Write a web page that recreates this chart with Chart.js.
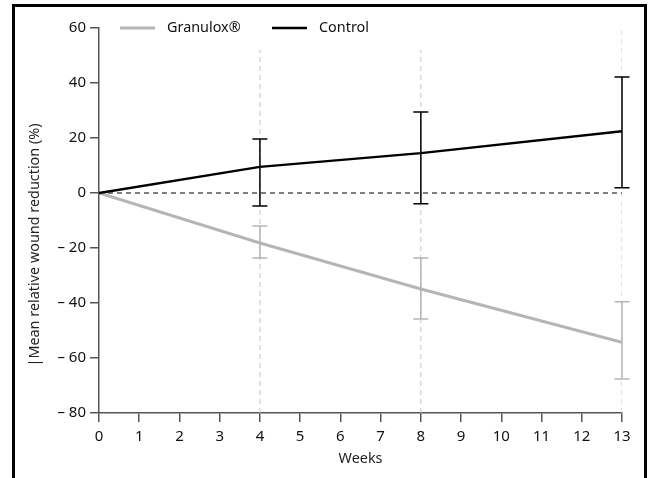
<!DOCTYPE html>
<html>
<head>
    <title>Mean relative wound reduction</title>
    <script src="https://cdn.jsdelivr.net/npm/chart.js@4.4.0/dist/chart.umd.min.js"></script>
    <style>
        body {
            margin: 0;
            background: white;
            font-family: "Noto Sans", Arial, sans-serif;
        }
        .frame {
            position: absolute;
            left: 12px;
            top: 4px;
            width: 629px;
            height: 500px;
            border: 3px solid #000;
        }
        #chart {
            position: absolute;
            left: 0;
            top: 0;
        }
    </style>
</head>
<body>
    <div class="frame"></div>
    <canvas id="chart" width="648" height="478"></canvas>

    <script>
        // Data
        const weeks = [0, 4, 8, 13];
        const granulox = [0, -18.2, -34.9, -54.3];
        const granuloxLow = [null, -23.6, -45.8, -67.6];
        const granuloxHigh = [null, -12.0, -23.6, -39.5];
        const control = [0, 9.5, 14.5, 22.5];
        const controlLow = [null, -4.7, -3.9, 1.9];
        const controlHigh = [null, 19.6, 29.5, 42.2];
        const guideWeeks = [4, 8, 13];
        const guideTops = [52, 52, 60];
        const yTicks = [60, 40, 20, 0, -20, -40, -60, -80];

        const fontFamily = '"Noto Sans", Arial, sans-serif';
        const grayColor = '#b5b5b5';

        const toPoints = (xs, ys) => xs.map((x, i) => ({ x: x, y: ys[i] }));

        const guideSets = guideWeeks.map((w, i) => ({
            label: 'guide' + w,
            data: [{ x: w, y: -80 }, { x: w, y: guideTops[i] }],
            borderColor: '#c4c4c4',
            borderWidth: 1,
            borderDash: [5, 4],
            pointRadius: 0,
            order: 5
        }));

        // error bars + legend + y title
        const extrasPlugin = {
            id: 'extras',
            afterDatasetsDraw(chart) {
                const c = chart.ctx;
                const xs = chart.scales.x, ys = chart.scales.y;
                const bars = [
                    { low: granuloxLow, high: granuloxHigh, color: grayColor },
                    { low: controlLow, high: controlHigh, color: '#000' }
                ];
                c.save();
                bars.forEach(b => {
                    c.strokeStyle = b.color;
                    c.lineWidth = 1.5;
                    weeks.forEach((w, i) => {
                        if (b.low[i] === null) return;
                        const px = xs.getPixelForValue(w);
                        const pl = ys.getPixelForValue(b.low[i]);
                        const ph = ys.getPixelForValue(b.high[i]);
                        c.beginPath();
                        c.moveTo(px, pl); c.lineTo(px, ph);
                        c.moveTo(px - 7.5, pl); c.lineTo(px + 7.5, pl);
                        c.moveTo(px - 7.5, ph); c.lineTo(px + 7.5, ph);
                        c.stroke();
                    });
                });
                c.restore();
            },
            afterDraw(chart) {
                const c = chart.ctx;
                c.save();
                // legend
                const items = [
                    { ds: chart.data.datasets[0], x: 120 },
                    { ds: chart.data.datasets[1], x: 272 }
                ];
                c.font = '14.4px ' + fontFamily;
                c.textBaseline = 'middle';
                items.forEach(it => {
                    c.strokeStyle = it.ds.borderColor;
                    c.lineWidth = it.ds.borderWidth;
                    c.beginPath();
                    c.moveTo(it.x, 28);
                    c.lineTo(it.x + 35, 28);
                    c.stroke();
                    c.fillStyle = '#111';
                    c.fillText(it.ds.label, it.x + 47, 28);
                });
                // y axis title
                c.translate(35, 245);
                c.rotate(-Math.PI / 2);
                c.textAlign = 'center';
                c.font = '14.4px ' + fontFamily;
                c.fillStyle = '#222';
                c.fillText('|Mean relative wound reduction (%)', 0, 0);
                c.restore();
            }
        };

        const chart = new Chart(document.getElementById('chart'), {
            type: 'line',
            data: {
                datasets: [
                    {
                        label: 'Granulox®',
                        data: toPoints(weeks, granulox),
                        borderColor: grayColor,
                        borderWidth: 3,
                        pointRadius: 0,
                        order: 2
                    },
                    {
                        label: 'Control',
                        data: toPoints(weeks, control),
                        borderColor: '#000',
                        borderWidth: 2.5,
                        pointRadius: 0,
                        order: 1
                    },
                    {
                        label: 'zero',
                        data: [{ x: 0, y: 0 }, { x: 13, y: 0 }],
                        borderColor: '#555',
                        borderWidth: 1.5,
                        borderDash: [5, 4],
                        pointRadius: 0,
                        order: 4
                    },
                    ...guideSets
                ]
            },
            options: {
                responsive: false,
                animation: false,
                layout: { padding: { top: 28, right: 26, left: 0, bottom: 10 } },
                plugins: {
                    legend: { display: false },
                    tooltip: { enabled: false }
                },
                scales: {
                    x: {
                        type: 'linear',
                        min: 0,
                        max: 13,
                        afterFit(scale) { scale.height = 55; },
                        ticks: {
                            stepSize: 1,
                            padding: 6,
                            color: '#111',
                            font: { size: 15, family: fontFamily }
                        },
                        grid: {
                            drawOnChartArea: false,
                            drawTicks: true,
                            tickLength: 9,
                            color: '#555',
                            lineWidth: 1.5
                        },
                        border: { display: true, color: '#555', width: 1.5 },
                        title: {
                            display: true,
                            text: 'Weeks',
                            color: '#222',
                            padding: { top: 0, bottom: 0 },
                            font: { size: 14.4, family: fontFamily }
                        }
                    },
                    y: {
                        min: -80,
                        max: 60,
                        afterFit(scale) { scale.width = 99; },
                        afterBuildTicks(scale) {
                            scale.ticks = yTicks.map(v => ({ value: v }));
                        },
                        ticks: {
                            padding: 4,
                            color: '#111',
                            font: { size: 15, family: fontFamily },
                            callback: v => v < 0 ? '\u2013 ' + Math.abs(v) : String(v)
                        },
                        grid: {
                            drawOnChartArea: false,
                            drawTicks: true,
                            tickLength: 9,
                            color: '#555',
                            lineWidth: 1.5
                        },
                        border: { display: true, color: '#555', width: 1.5 }
                    }
                }
            },
            plugins: [extrasPlugin]
        });
    </script>
</body>
</html>
